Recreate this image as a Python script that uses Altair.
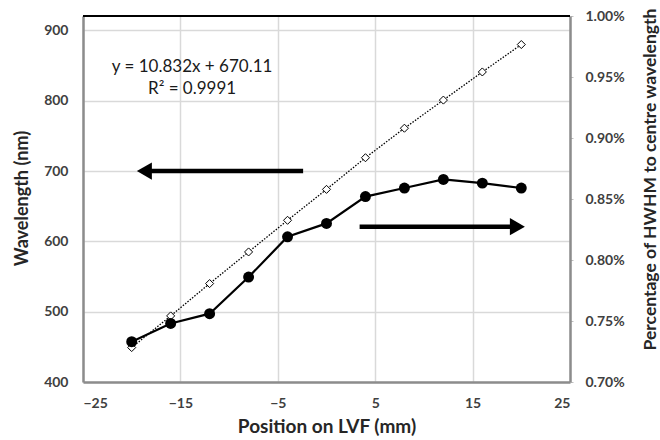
import altair as alt
import pandas as pd

# Measurement positions along the linear variable filter (mm)
positions = [-20, -16, -12, -8, -4, 0, 4, 8, 12, 16, 20]
# Centre wavelength at each position (nm), left axis
wavelength_nm = [449, 494, 540, 585, 630, 674, 719, 761, 801, 841, 880]
# HWHM as a percentage of the centre wavelength, right axis
hwhm_percent = [0.733, 0.748, 0.756, 0.786, 0.819, 0.830, 0.852, 0.859, 0.866, 0.863, 0.859]

# Linear fit annotation
fit_lines = ["y = 10.832x + 670.11", "R\u00b2 = 0.9991"]
fit_x = [-13.8, -13.8]
fit_y = [848, 817]

# Direction arrows (x start, x end, y on wavelength scale, head shape)
arrow_x_start = [-2.4, 3.4]
arrow_x_end = [-18.7, 19.6]
arrow_y = [700, 621]
arrow_heads = ["triangle-left", "triangle-right"]

x_ticks = [-25, -15, -5, 5, 15, 25]
left_ticks = [400, 500, 600, 700, 800, 900]
right_ticks = [0.0070, 0.0075, 0.0080, 0.0085, 0.0090, 0.0095, 0.0100]

FONT = "Lato"
LABEL_COLOR = "#404040"
TITLE_COLOR = "#262626"
AXIS_GRAY = "#8c8c8c"
PLOT_W, PLOT_H = 487, 366

wl_df = pd.DataFrame({"x": positions, "y": wavelength_nm})
hw_df = pd.DataFrame({"x": positions, "y": [v / 100 for v in hwhm_percent]})
fit_df = pd.DataFrame({"x": fit_x, "y": fit_y, "t": fit_lines})
arrow_df = pd.DataFrame({"x": arrow_x_start, "x2": arrow_x_end, "y": arrow_y, "shape": arrow_heads})

x_scale = alt.Scale(domain=[-25, 25], nice=False, zero=False)
x_enc = alt.X(
    "x:Q",
    scale=x_scale,
    axis=alt.Axis(
        values=x_ticks,
        title="Position on LVF (mm)",
        grid=True,
        gridColor="#d9d9d9",
        gridWidth=1.5,
        domainColor=AXIS_GRAY,
        domainWidth=2.5,
        ticks=False,
        labelPadding=14,
        labelFontSize=14,
        labelFont=FONT,
        labelFontWeight="bold",
        labelColor=LABEL_COLOR,
        titleFont=FONT,
        titleFontSize=19,
        titleFontWeight="bold",
        titleColor=TITLE_COLOR,
        titleY=35,
        titleBaseline="top",
    ),
)

left_scale = alt.Scale(domain=[400, 920.6], nice=False, zero=False)
left_axis = alt.Axis(
    orient="left",
    values=left_ticks,
    title="Wavelength (nm)",
    grid=True,
    gridColor="#d9d9d9",
    gridWidth=1.5,
    domainColor=AXIS_GRAY,
    domainWidth=2.5,
    ticks=False,
    labelPadding=15,
    labelFontSize=14,
    labelFont=FONT,
    labelFontWeight="bold",
    labelColor=LABEL_COLOR,
    titleFont=FONT,
    titleFontSize=18,
    titleFontWeight="bold",
    titleColor=TITLE_COLOR,
    titleX=-61,
    titleY=182,
    titleAngle=270,
    titleBaseline="middle",
)
y_left = alt.Y("y:Q", scale=left_scale, axis=left_axis)

wl_line = alt.Chart(wl_df).mark_line(
    color="black", strokeWidth=1.3, strokeDash=[1.5, 1.5]
).encode(x=x_enc, y=y_left)

wl_points = alt.Chart(wl_df).mark_point(
    shape="diamond", filled=True, fill="white", stroke="black", strokeWidth=1, size=65, opacity=1
).encode(x=x_enc, y=y_left)

fit_text = alt.Chart(fit_df).mark_text(
    font=FONT, fontSize=17, color="#1a1a1a", align="center", baseline="middle"
).encode(x=x_enc, y=y_left, text="t:N")

arrow_shaft = alt.Chart(arrow_df).mark_rule(color="black", strokeWidth=4.5).encode(
    x=x_enc, x2="x2:Q", y=y_left
)
arrow_head = alt.Chart(arrow_df).mark_point(
    filled=True, color="black", size=300, opacity=1
).encode(
    x=alt.X("x2:Q", scale=x_scale),
    y=y_left,
    shape=alt.Shape("shape:N", scale=None),
)

# Black top edge of the plot frame (other edges come from the axis lines)
top_edge = alt.Chart(wl_df).mark_rule(color="black", strokeWidth=1.8).encode(
    x=alt.value(0), x2=alt.value(PLOT_W), y=alt.value(0)
)

left_layer = alt.layer(wl_line, wl_points, arrow_shaft, arrow_head, fit_text, top_edge)

right_scale = alt.Scale(domain=[0.0070, 0.0100], nice=False, zero=False)
right_axis = alt.Axis(
    orient="right",
    values=right_ticks,
    format=".2%",
    title="Percentage of HWHM to centre wavelength",
    grid=False,
    domainColor=AXIS_GRAY,
    domainWidth=2.5,
    ticks=True,
    tickColor="#bfbfbf",
    tickSize=3,
    labelPadding=12,
    labelFontSize=14,
    labelFont=FONT,
    labelFontWeight="bold",
    labelColor=LABEL_COLOR,
    titleFont=FONT,
    titleFontSize=17.5,
    titleFontWeight="bold",
    titleColor=TITLE_COLOR,
    titleX=80,
    titleY=163,
    titleAngle=270,
    titleBaseline="middle",
)
y_right = alt.Y("y:Q", scale=right_scale, axis=right_axis)

hw_line = alt.Chart(hw_df).mark_line(color="black", strokeWidth=2.2).encode(x=x_enc, y=y_right)
hw_points = alt.Chart(hw_df).mark_point(
    shape="circle", filled=True, color="black", size=120, opacity=1
).encode(x=x_enc, y=y_right)

right_layer = alt.layer(hw_line, hw_points)

chart = (
    alt.layer(left_layer, right_layer)
    .resolve_scale(y="independent")
    .properties(
        width=PLOT_W,
        height=PLOT_H,
        autosize=alt.AutoSizeParams(type="none"),
        padding={"left": 83, "top": 16, "right": 90, "bottom": 58},
        background="white",
    )
    .configure_view(strokeWidth=0)
)

chart.save("out.html", embed_options={"renderer": "svg", "actions": False})
